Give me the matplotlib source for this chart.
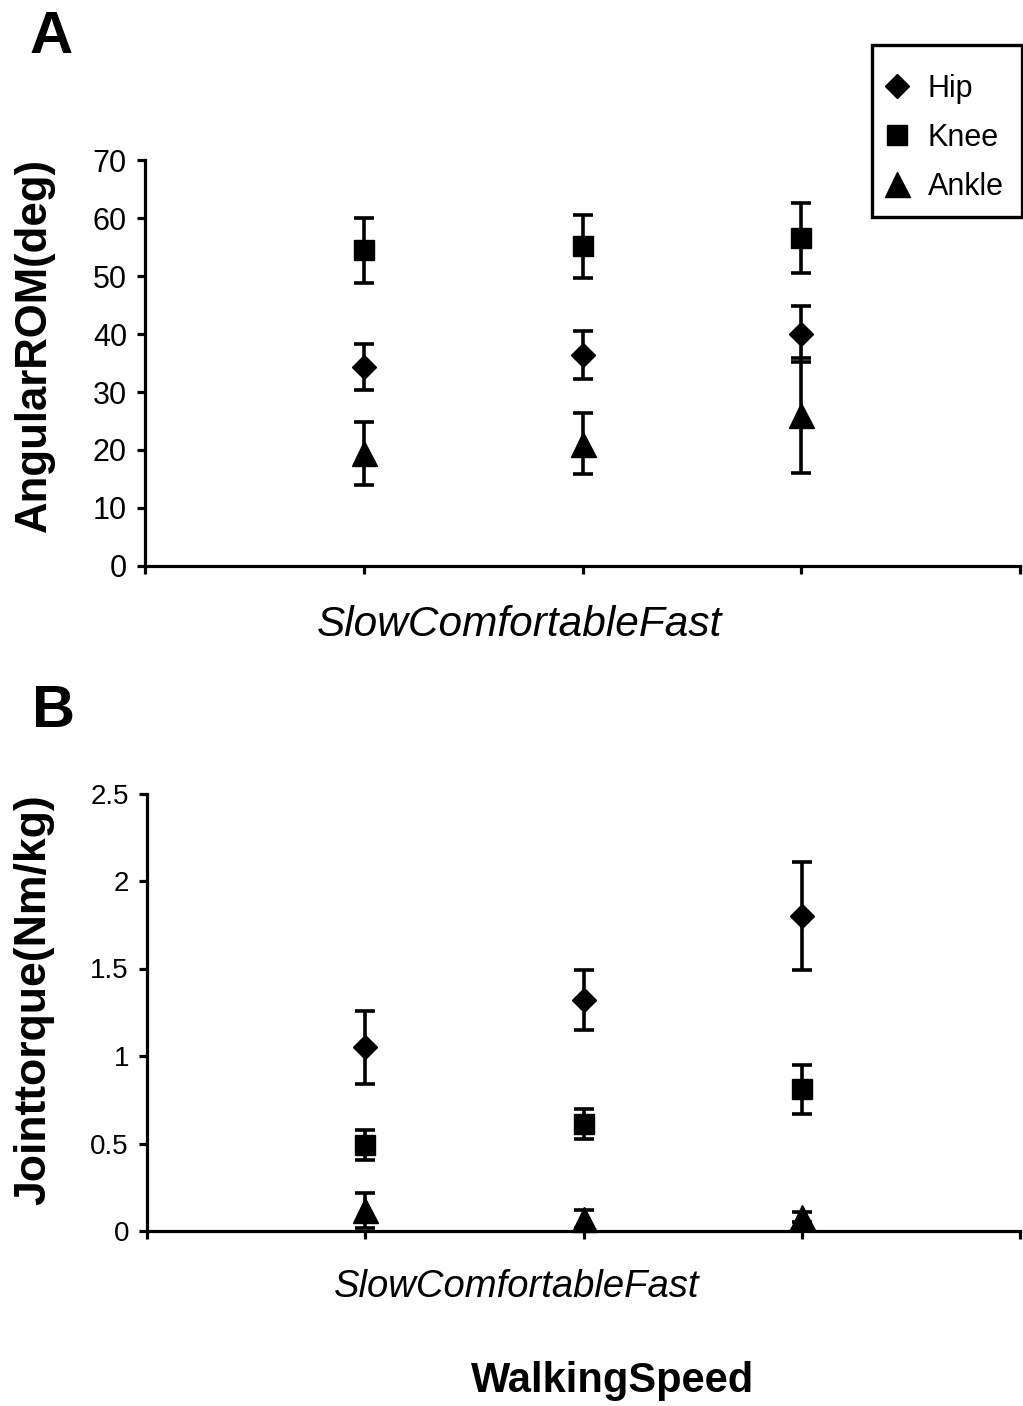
import matplotlib
matplotlib.use("Agg")
import matplotlib.pyplot as plt
from matplotlib.lines import Line2D
from matplotlib.patches import Rectangle

plt.rcParams['font.family'] = ['Liberation Sans', 'DejaVu Sans']

# walking speed categories (x = 1, 2, 3)
speeds = ["Slow", "Comfortable", "Fast"]
x_pos = [1, 2, 3]
joints = ["Hip", "Knee", "Ankle"]
markers = ["D", "s", "^"]
msizes = [12.5, 14.5, 18]

# A: angular range of motion (deg), mean and SD
rom_hip = [34.3, 36.4, 40.0]
rom_hip_sd = [4.0, 4.2, 4.8]
rom_knee = [54.4, 55.1, 56.6]
rom_knee_sd = [5.6, 5.5, 6.0]
rom_ankle = [19.4, 21.1, 26.0]
rom_ankle_sd = [5.5, 5.2, 9.9]

# B: joint torque (Nm/kg), mean and SD
tq_hip = [1.05, 1.32, 1.80]
tq_hip_sd = [0.21, 0.17, 0.31]
tq_knee = [0.49, 0.61, 0.81]
tq_knee_sd = [0.085, 0.085, 0.14]
tq_ankle = [0.12, 0.07, 0.08]
tq_ankle_sd = [0.10, 0.05, 0.03]

W, H = 1023, 1406
fig = plt.figure(figsize=(W / 100, H / 100), dpi=100)


def fx(px):
    return px / W


def fy(py):
    return 1 - py / H


def panel(ax, means, sds, ylim, yticks, yticklabels, tick_fs):
    for m, s, mk, ms in zip(means, sds, markers, msizes):
        ax.errorbar(x_pos, m, yerr=s, fmt=mk, ms=ms, color="black",
                    ecolor="black", elinewidth=2.6, capsize=7, capthick=2.6,
                    clip_on=False, zorder=3)
    ax.set_xlim(0, 4)
    ax.set_ylim(*ylim)
    ax.set_xticks([0, 1, 2, 3, 4])
    ax.set_xticklabels([])
    ax.set_yticks(yticks)
    ax.set_yticklabels(yticklabels, fontsize=tick_fs)
    for sp in ["top", "right"]:
        ax.spines[sp].set_visible(False)
    for sp in ["left", "bottom"]:
        ax.spines[sp].set_linewidth(2.3)
    ax.tick_params(axis="both", direction="out", width=2.3, length=6, pad=7)


axA = fig.add_axes([fx(145), fy(566), fx(875), 406 / H])
panel(axA, [rom_hip, rom_knee, rom_ankle], [rom_hip_sd, rom_knee_sd, rom_ankle_sd],
      (0, 70), list(range(0, 71, 10)), [str(v) for v in range(0, 71, 10)], 22)

axB = fig.add_axes([fx(147), fy(1231), fx(873), 437.5 / H])
b_ticks = [0, 0.5, 1, 1.5, 2, 2.5]
panel(axB, [tq_hip, tq_knee, tq_ankle], [tq_hip_sd, tq_knee_sd, tq_ankle_sd],
      (0, 2.5), b_ticks, ["0", "0.5", "1", "1.5", "2", "2.5"], 20)

# panel letters
fig.text(fx(30), fy(53), "A", fontsize=43, fontweight="bold", ha="left", va="baseline")
fig.text(fx(32), fy(727), "B", fontsize=43, fontweight="bold", ha="left", va="baseline")

# axis titles
fig.text(fx(34), fy(345), "AngularROM(deg)", fontsize=31.5, fontweight="bold",
         rotation=90, ha="center", va="center")
fig.text(fx(34), fy(1000), "Jointtorque(Nm/kg)", fontsize=32, fontweight="bold",
         rotation=90, ha="center", va="center")

cat_text = "".join(speeds)
fig.text(fx(519), fy(636), cat_text, fontsize=30.5, style="italic", ha="center", va="baseline")
fig.text(fx(517), fy(1297), cat_text, fontsize=27.5, style="italic", ha="center", va="baseline")
fig.text(fx(613), fy(1392), "WalkingSpeed", fontsize=30, fontweight="bold",
         ha="center", va="baseline")

# legend (frame drawn separately so the padding can differ per side)
handles = [Line2D([], [], linestyle="none", marker=mk, ms=ms, color="black")
           for mk, ms in zip(markers, msizes)]
fig.legend(handles, joints, loc="upper left", bbox_to_anchor=(fx(882), fy(74)),
           fontsize=22, frameon=False, handlelength=1.0,
           handletextpad=0.5, labelspacing=0.62, borderpad=0,
           borderaxespad=0)
fig.patches.append(Rectangle((fx(872), fy(217)), fx(150), 172 / H,
                             transform=fig.transFigure, fill=False,
                             edgecolor="black", linewidth=2.4))

fig.savefig("out.png", dpi=100)
